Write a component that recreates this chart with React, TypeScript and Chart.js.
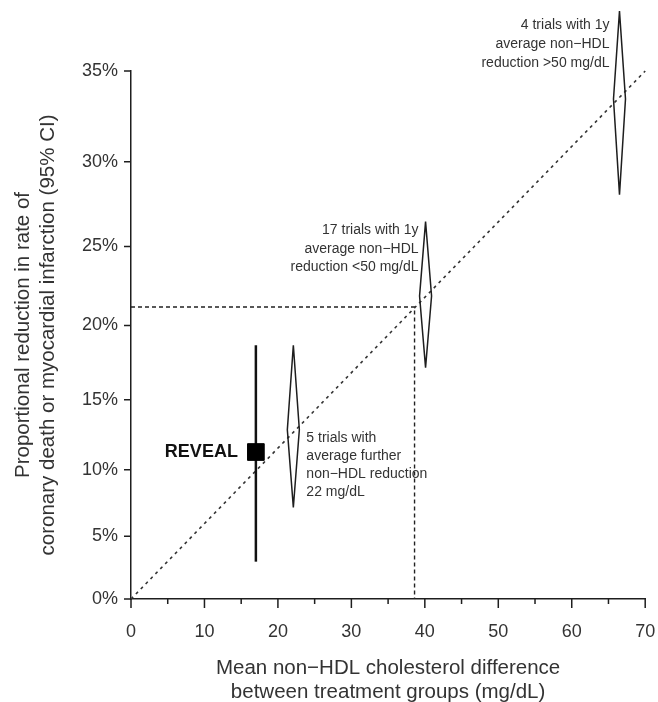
import React, { useEffect, useRef } from 'react';
import { Chart, registerables } from 'chart.js';

Chart.register(...registerables);

// ---- data ----
const xTickValues = [0, 10, 20, 30, 40, 50, 60, 70];
const xMinorTickValues = [5, 15, 25, 35, 45, 55, 65];
const yTickPercents = [0, 5, 10, 15, 20, 25, 30, 35];

const refLineX = [0, 70];
const refLinePct = [0, 35];

const crossX = [0, 38.6, 38.6];
const crossPct = [21.2, 21.2, 0];

const revealX = [17];
const revealPct = [11.3];
const revealLoPct = [3.0];
const revealHiPct = [18.7];
const revealLabel = 'REVEAL';

const diamondX = [22.1, 40.1, 66.5];
const diamondLoPct = [7.2, 17.2, 28.1];
const diamondMidPct = [12.9, 21.9, 33.5];
const diamondHiPct = [18.7, 26.5, 38.1];
const diamondLabels = [
  ['5 trials with', 'average further', 'non\u2212HDL reduction', '22 mg/dL'],
  ['17 trials with 1y', 'average non\u2212HDL', 'reduction <50 mg/dL'],
  ['4 trials with 1y', 'average non\u2212HDL', 'reduction >50 mg/dL'],
];

const xTitle = ['Mean non\u2212HDL cholesterol difference', 'between treatment groups (mg/dL)'];
const yTitle = ['Proportional reduction in rate of', 'coronary death or myocardial infarction (95% CI)'];

// y axis is log(risk ratio) with labels as proportional reduction
const toLog = (p: number) => -Math.log(1 - p / 100);
const fromLog = (v: number) => (1 - Math.exp(-v)) * 100;

const FONT = "'Liberation Sans', Arial, Helvetica, sans-serif";
const TEXT = '#333';
const INK = '#1e1e1e';

const overlayPlugin = {
  id: 'overlay',
  afterDraw(chart: any) {
    const ctx = chart.ctx as CanvasRenderingContext2D;
    const xs = chart.scales.x;
    const ys = chart.scales.y;
    const area = chart.chartArea;
    ctx.save();

    // tick marks
    ctx.strokeStyle = INK;
    ctx.lineWidth = 1.5;
    ctx.beginPath();
    xTickValues.forEach((v) => {
      const px = xs.getPixelForValue(v);
      ctx.moveTo(px, area.bottom);
      ctx.lineTo(px, area.bottom + 9);
    });
    xMinorTickValues.forEach((v) => {
      const px = xs.getPixelForValue(v);
      ctx.moveTo(px, area.bottom);
      ctx.lineTo(px, area.bottom + 5);
    });
    yTickPercents.forEach((p) => {
      const py = ys.getPixelForValue(toLog(p));
      ctx.moveTo(area.left, py);
      ctx.lineTo(area.left - 7, py);
    });
    ctx.stroke();

    // diamonds
    const hw = 6;
    ctx.strokeStyle = INK;
    ctx.lineWidth = 1.5;
    ctx.lineJoin = 'miter';
    diamondX.forEach((x, i) => {
      const cx = xs.getPixelForValue(x);
      const top = ys.getPixelForValue(toLog(diamondHiPct[i]));
      const mid = ys.getPixelForValue(toLog(diamondMidPct[i]));
      const bot = ys.getPixelForValue(toLog(diamondLoPct[i]));
      ctx.beginPath();
      ctx.moveTo(cx, top);
      ctx.lineTo(cx + hw, mid);
      ctx.lineTo(cx, bot);
      ctx.lineTo(cx - hw, mid);
      ctx.closePath();
      ctx.stroke();
    });

    // diamond labels
    ctx.fillStyle = TEXT;
    ctx.font = `14px ${FONT}`;
    ctx.textBaseline = 'middle';
    {
      const cx = xs.getPixelForValue(diamondX[0]);
      const mid = ys.getPixelForValue(toLog(diamondMidPct[0]));
      ctx.textAlign = 'left';
      diamondLabels[0].forEach((t, k) => ctx.fillText(t, cx + hw + 7, mid + 8 + k * 18));
    }
    {
      const cx = xs.getPixelForValue(diamondX[1]);
      const top = ys.getPixelForValue(toLog(diamondHiPct[1]));
      ctx.textAlign = 'right';
      diamondLabels[1].forEach((t, k) => ctx.fillText(t, cx - hw - 1, top + 9 + k * 18.5));
    }
    {
      const cx = xs.getPixelForValue(diamondX[2]);
      const top = ys.getPixelForValue(toLog(diamondHiPct[2]));
      ctx.textAlign = 'right';
      diamondLabels[2].forEach((t, k) => ctx.fillText(t, cx - hw - 4, top + 14 + k * 19));
    }

    // REVEAL label
    ctx.font = `bold 18px ${FONT}`;
    ctx.fillStyle = '#111';
    ctx.textAlign = 'right';
    ctx.fillText(revealLabel, xs.getPixelForValue(revealX[0]) - 18, ys.getPixelForValue(toLog(revealPct[0])));

    // axis titles
    ctx.fillStyle = TEXT;
    ctx.font = `20.5px ${FONT}`;
    ctx.textAlign = 'center';
    const cxT = (area.left + area.right) / 2;
    ctx.fillText(xTitle[0], cxT, area.bottom + 69);
    ctx.fillText(xTitle[1], cxT, area.bottom + 93);

    const cyT = (area.top + area.bottom) / 2;
    ctx.save();
    ctx.translate(23, cyT);
    ctx.rotate(-Math.PI / 2);
    ctx.fillText(yTitle[0], 0, 0);
    ctx.restore();
    ctx.save();
    ctx.translate(48, cyT);
    ctx.rotate(-Math.PI / 2);
    ctx.fillText(yTitle[1], 0, 0);
    ctx.restore();

    ctx.restore();
  },
};

export default function App() {
  const ref = useRef<HTMLCanvasElement | null>(null);

  useEffect(() => {
    const canvas = ref.current;
    if (!canvas) return;
    const chart = new Chart(canvas, {
      type: 'scatter',
      data: {
        datasets: [
          {
            label: 'REVEAL',
            data: revealX.map((x, i) => ({ x, y: toLog(revealPct[i]) })),
            pointStyle: 'rect',
            pointRadius: 11.8,
            backgroundColor: '#000',
            borderColor: '#000',
            borderWidth: 1,
            clip: false,
          } as any,
          {
            type: 'line',
            label: 'REVEAL CI',
            data: [
              { x: revealX[0], y: toLog(revealLoPct[0]) },
              { x: revealX[0], y: toLog(revealHiPct[0]) },
            ],
            borderColor: '#111',
            borderWidth: 2.5,
            pointRadius: 0,
            clip: false,
          } as any,
          {
            type: 'line',
            label: 'trend',
            data: refLineX.map((x, i) => ({ x, y: toLog(refLinePct[i]) })),
            borderColor: '#333',
            borderWidth: 1.6,
            borderDash: [3, 4],
            pointRadius: 0,
            clip: false,
          } as any,
          {
            type: 'line',
            label: 'cross',
            data: crossX.map((x, i) => ({ x, y: toLog(crossPct[i]) })),
            borderColor: '#222',
            borderWidth: 1.4,
            borderDash: [4, 3],
            pointRadius: 0,
            clip: false,
          } as any,
        ],
      },
      options: {
        animation: false,
        responsive: false,
        devicePixelRatio: 1,
        layout: { padding: { top: 71, right: 11, left: 0, bottom: 0 } },
        plugins: {
          legend: { display: false },
          tooltip: { enabled: false },
        },
        scales: {
          x: {
            type: 'linear',
            min: 0,
            max: 70,
            afterBuildTicks: (s: any) => {
              s.ticks = xTickValues.map((v) => ({ value: v }));
            },
            afterFit: (s: any) => {
              s.height = 103;
              s.paddingLeft = 0;
              s.paddingRight = 0;
            },
            grid: { display: false, drawTicks: false },
            border: { display: true, color: INK, width: 1.5 },
            ticks: {
              color: TEXT,
              font: { size: 18, family: FONT },
              padding: 22,
              maxRotation: 0,
              callback: (v: any) => String(v),
            },
          },
          y: {
            type: 'linear',
            min: 0,
            max: toLog(35),
            afterBuildTicks: (s: any) => {
              s.ticks = yTickPercents.map((p) => ({ value: toLog(p) }));
            },
            afterFit: (s: any) => {
              s.width = 131;
              s.paddingTop = 0;
              s.paddingBottom = 0;
            },
            grid: { display: false, drawTicks: false },
            border: { display: true, color: INK, width: 1.5 },
            ticks: {
              color: TEXT,
              font: { size: 18, family: FONT },
              padding: 13,
              callback: (v: any) => Math.round(fromLog(Number(v))) + '%',
            },
          },
        },
      },
      plugins: [overlayPlugin],
    } as any);
    return () => chart.destroy();
  }, []);

  return (
    <div style={{ position: 'fixed', left: 0, top: 0, width: 658, height: 702, background: '#fff' }}>
      <canvas ref={ref} width={658} height={702} style={{ width: 658, height: 702, display: 'block' }} />
    </div>
  );
}
